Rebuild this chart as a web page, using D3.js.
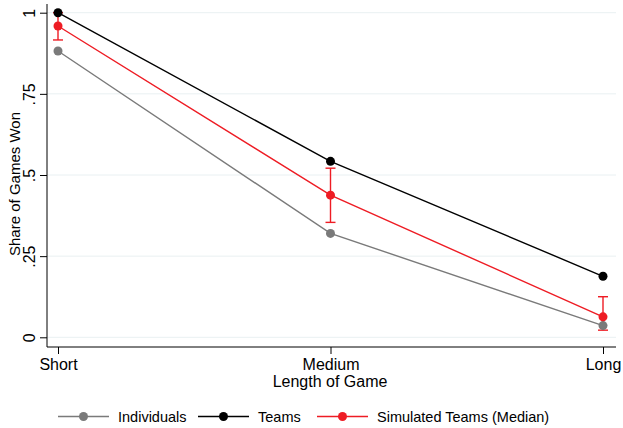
<!DOCTYPE html>
<html>
<head>
<meta charset="utf-8">
<script src="https://cdn.jsdelivr.net/npm/d3@7"></script>
<style>
  body { margin: 0; background: #fff; }
  text { font-family: "Liberation Sans", Arial, sans-serif; fill: #000; }
</style>
</head>
<body>
<svg id="chart" width="623" height="428"></svg>
<script>
const categories = ['Short', 'Medium', 'Long'];
const individuals = [0.882, 0.320, 0.036];
const teams = [1.0, 0.542, 0.188];
const simulated = [0.959, 0.438, 0.063];
const simLow = [0.916, 0.354, 0.022];
const simHigh = [1.0, 0.521, 0.125];
const yTicks = [0, 0.25, 0.5, 0.75, 1];
const yTickLabels = ['0', '.25', '.5', '.75', '1'];

const series = [
  { name: 'Individuals', values: individuals, color: '#7a7a7a' },
  { name: 'Teams', values: teams, color: '#000000' },
  { name: 'Simulated Teams (Median)', values: simulated, color: '#ee1c24' }
];

const svg = d3.select('#chart');

// plot area
const x = d3.scalePoint().domain(categories).range([58, 603]);
const y = d3.scaleLinear().domain([0, 1]).range([337.3, 12.7]);
const axisX = 47, axisY = 347, plotRight = 616, plotTop = 4;

// gridlines
svg.append('g')
  .selectAll('line')
  .data(yTicks)
  .join('line')
  .attr('x1', axisX)
  .attr('x2', plotRight)
  .attr('y1', d => y(d))
  .attr('y2', d => y(d))
  .attr('stroke', '#e9f0f2')
  .attr('stroke-width', 1);

// y axis
const yAxis = svg.append('g')
  .attr('transform', `translate(${axisX},0)`)
  .call(d3.axisLeft(y).tickValues(yTicks).tickSize(7)
    .tickFormat((d, i) => yTickLabels[i]));
yAxis.select('.domain').attr('d', `M0,${plotTop}V${axisY}`);
yAxis.selectAll('line').attr('stroke', '#000');
// rotated tick labels, reading upward
yAxis.selectAll('text')
  .style('font-size', '16px')
  .attr('text-anchor', 'middle')
  .attr('transform', 'rotate(-90)')
  .attr('x', 0)
  .attr('y', -12)
  .attr('dy', 0);

// x axis
const xAxis = svg.append('g')
  .attr('transform', `translate(0,${axisY})`)
  .call(d3.axisBottom(x).tickSize(7).tickPadding(5));
xAxis.select('.domain').attr('d', `M${axisX},0H${plotRight}`);
xAxis.selectAll('text').style('font-size', '16px');

// axis titles
svg.append('text')
  .attr('transform', 'translate(20,184) rotate(-90)')
  .attr('text-anchor', 'middle')
  .style('font-size', '15px')
  .text('Share of Games Won');

svg.append('text')
  .attr('x', 330)
  .attr('y', 387)
  .attr('text-anchor', 'middle')
  .style('font-size', '16px')
  .text('Length of Game');

// lines and markers
const line = d3.line()
  .x((d, i) => x(categories[i]))
  .y(d => y(d));

series.forEach(s => {
  svg.append('path')
    .datum(s.values)
    .attr('d', line)
    .attr('fill', 'none')
    .attr('stroke', s.color)
    .attr('stroke-width', 1.4);
});

// error bars for simulated teams
const eb = svg.append('g').attr('stroke', '#ee1c24').attr('stroke-width', 1.4);
categories.forEach((c, i) => {
  const cx = x(c);
  eb.append('line').attr('x1', cx).attr('x2', cx)
    .attr('y1', y(simLow[i])).attr('y2', y(simHigh[i]));
  eb.append('line').attr('x1', cx - 5).attr('x2', cx + 5)
    .attr('y1', y(simLow[i])).attr('y2', y(simLow[i]));
  eb.append('line').attr('x1', cx - 5).attr('x2', cx + 5)
    .attr('y1', y(simHigh[i])).attr('y2', y(simHigh[i]));
});

series.forEach(s => {
  svg.append('g')
    .selectAll('circle')
    .data(s.values)
    .join('circle')
    .attr('cx', (d, i) => x(categories[i]))
    .attr('cy', d => y(d))
    .attr('r', 4.5)
    .attr('fill', s.color);
});

// legend
const legendX = [58, 198, 317];
const legend = svg.append('g');
series.forEach((s, i) => {
  const g = legend.append('g').attr('transform', `translate(${legendX[i]},416.5)`);
  g.append('line').attr('x1', 0).attr('x2', 51)
    .attr('stroke', s.color).attr('stroke-width', 1.4);
  g.append('circle').attr('cx', 25.5).attr('r', 4.5).attr('fill', s.color);
  g.append('text').attr('x', 60).attr('y', 5)
    .style('font-size', '14.5px')
    .text(s.name);
});
</script>
</body>
</html>
